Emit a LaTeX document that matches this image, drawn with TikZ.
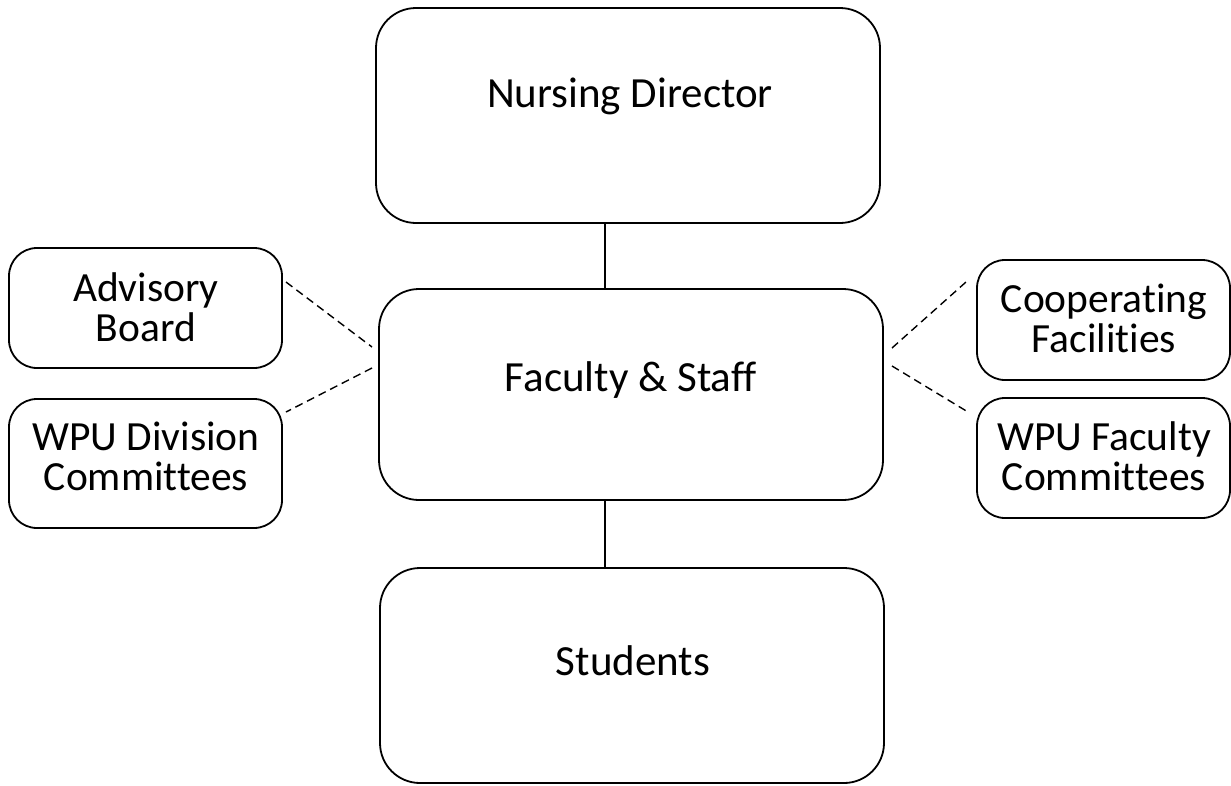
\documentclass[tikz,border=0pt]{standalone}
\usepackage{fontspec}
\setmainfont{Carlito}[Ligatures={NoCommon}]
\begin{document}
\begin{tikzpicture}[x=1pt,y=-1pt,
  box/.style={draw, line width=1.8pt, rounded corners=#1, inner sep=0pt},
  big/.style={font=\fontsize{43}{48}\selectfont, anchor=base, inner sep=0pt},
  small/.style={font=\fontsize{41.5}{40}\selectfont, align=center, anchor=base, inner sep=0pt},
  solidline/.style={line width=1.8pt},
  dashline/.style={line width=1.4pt, dash pattern=on 8pt off 5pt}]
\useasboundingbox (0,0) rectangle (1231,785);
% main column
\node[box=40pt, minimum width=504pt, minimum height=215pt] (nd) at (628,115.5) {};
\node[box=40pt, minimum width=504pt, minimum height=211pt] (fs) at (631,394.5) {};
\node[box=40pt, minimum width=504pt, minimum height=215pt] (st) at (632,675.5) {};
\node[big] (ndt) at (630,107) {Nursing Director};
\node[big] (fst) at (631,391) {Faculty \& Staff};
\node[big] (stt) at (633,675) {Students};
% side boxes
\node[box=28pt, minimum width=273pt, minimum height=120pt] (ab) at (145.5,308) {};
\node[box=28pt, minimum width=273pt, minimum height=129pt] (wd) at (145.5,463.5) {};
\node[box=28pt, minimum width=253pt, minimum height=120pt] (cf) at (1103.5,320) {};
\node[box=28pt, minimum width=253pt, minimum height=120pt] (wf) at (1103.5,458) {};
\node[small] (abt) at (146,341) {Advisory\\Board};
\node[small] (wdt) at (146,490) {WPU Division\\Committees};
\node[small] (cft) at (1104,352) {Cooperating\\Facilities};
\node[small] (wft) at (1104,490) {WPU Faculty\\Committees};
% solid connectors
\draw[solidline] ([xshift=-23pt]nd.south) -- ([xshift=-23pt]nd.south |- fs.north);
\draw[solidline] ([xshift=-26pt]fs.south) -- ([xshift=-26pt]fs.south |- st.north);
% dashed connectors
\coordinate (l1) at (372,347);
\coordinate (l2) at (372,368);
\coordinate (r1) at (892,348);
\coordinate (r2) at (892,366);
\coordinate (ab1) at (286,282);
\coordinate (wd1) at (286,412);
\coordinate (cf1) at (966,282);
\coordinate (wf1) at (968,412);
\draw[dashline] (ab1) -- (l1);
\draw[dashline] (l2) -- (wd1);
\draw[dashline] (r1) -- (cf1);
\draw[dashline] (r2) -- (wf1);
\end{tikzpicture}
\end{document}
